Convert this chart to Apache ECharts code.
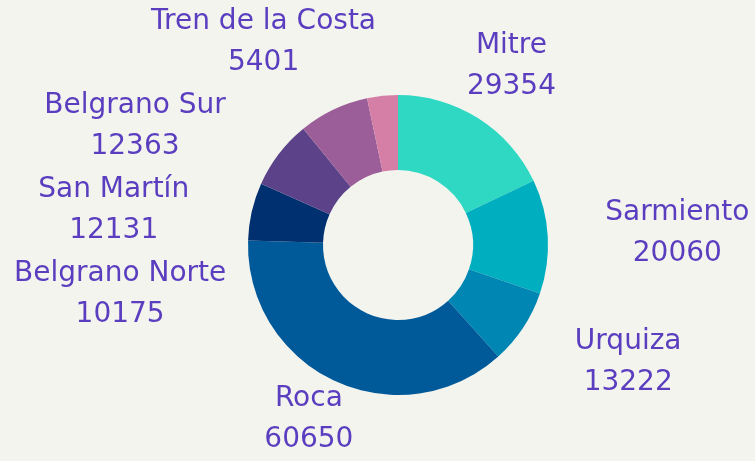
<!DOCTYPE html>
<html>
<head>
<meta charset="utf-8">
<script src="https://cdn.jsdelivr.net/npm/echarts@6/dist/echarts.min.js"></script>
<style>
html,body{margin:0;padding:0;background:#f4f4ef;}
#chart{width:755px;height:461px;}
</style>
</head>
<body>
<div id="chart"></div>
<script>
const categories = ['Mitre','Sarmiento','Urquiza','Roca','Belgrano Norte','San Martín','Belgrano Sur','Tren de la Costa'];
const values = [29354,20060,13222,60650,10175,12131,12363,5401];
const colors = ['#2ed8c3','#00afbf','#0086b3','#005a9a','#003070','#5c4389','#9c5e98','#d57fa7'];

const total = values.reduce((a,b)=>a+b,0);
function midAngle(i){
  let s=0; for(let k=0;k<i;k++) s+=values[k];
  return (90 - (s + values[i]/2)/total*360) * Math.PI/180;
}

const textStyle = {color:'#5a3ebf',fontFamily:'DejaVu Sans',fontSize:28,fontWeight:'normal',lineHeight:41};
const MARGIN = 14;

const chart = echarts.init(document.getElementById('chart'), null, {renderer:'canvas'});
chart.setOption({
  backgroundColor:'#f4f4ef',
  color: colors,
  series:[{
    type:'pie',
    center:[398,245],
    radius:[75,150],
    startAngle:90,
    clockwise:true,
    avoidLabelOverlap:true,
    data: categories.map((c,i)=>({name:c,value:values[i]})),
    label:Object.assign({
      show:true,
      position:'outside',
      overflow:'none',
      distanceToLabelLine:0,
      formatter:'{t|{b}}\n{t|{c}}',
      rich:{t:Object.assign({align:'center'},textStyle)}
    },textStyle),
    labelLine:{show:false,length:62,length2:0},
    labelLayout:function(p){
      const a = midAngle(p.dataIndex);
      if ((Math.abs(Math.cos(a)) < 0.6 && Math.sin(a) < 0) || p.dataIndex===0) return {align:'center'};
      if (p.labelRect.x < MARGIN) return {dx: MARGIN - p.labelRect.x};
      return {};
    },
    emphasis:{disabled:true}
  }]
});
</script>
</body>
</html>
